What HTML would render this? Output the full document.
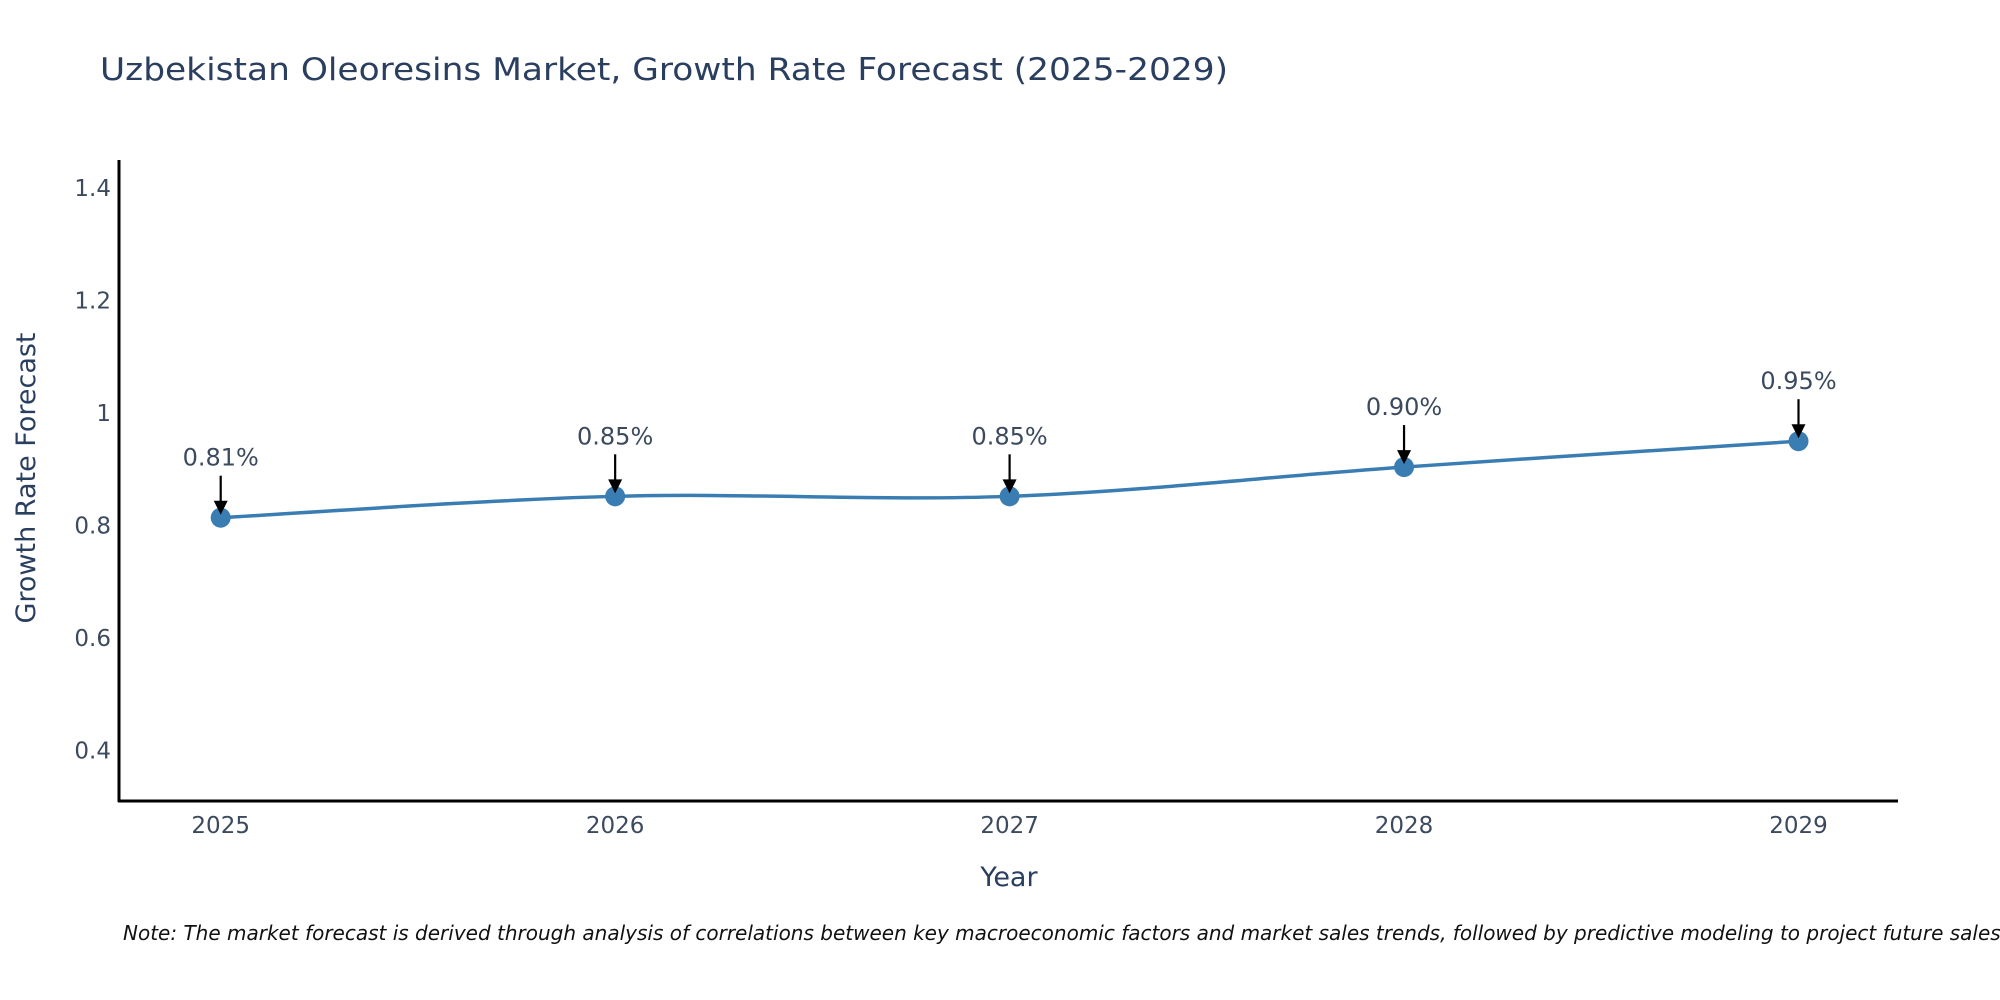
<!DOCTYPE html>
<html><head><meta charset="utf-8"><style>
html,body{margin:0;padding:0;background:#fff;}
svg{display:block;font-family:"DejaVu Sans","Liberation Sans",sans-serif;}
</style></head><body>
<svg id="chart" width="2000" height="1000" viewBox="0 0 2000 1000">
<text x="100" y="80" font-size="31" fill="#2a3f5f" textLength="1128" lengthAdjust="spacingAndGlyphs">Uzbekistan Oleoresins Market, Growth Rate Forecast (2025-2029)</text>
<g id="yticks"></g>
<g id="xticks"></g>
<line x1="119" y1="160" x2="119" y2="802" stroke="#000" stroke-width="3"/>
<line x1="118" y1="801" x2="1898" y2="801" stroke="#000" stroke-width="3"/>
<text x="1009" y="886" font-size="27" fill="#2a3f5f" text-anchor="middle">Year</text>
<text transform="translate(35,478) rotate(-90)" font-size="27" fill="#2a3f5f" text-anchor="middle">Growth Rate Forecast</text>
<path id="line" fill="none" stroke="#3a7db3" stroke-width="3.5"/>
<g id="points"></g>
<g id="annots"></g>
<text x="123" y="940" font-size="20" font-style="italic" fill="#111">Note: The market forecast is derived through analysis of correlations between key macroeconomic factors and market sales trends, followed by predictive modeling to project future sales.</text>
</svg>
<script>
const years = [2025, 2026, 2027, 2028, 2029];
const growth = [0.813, 0.851, 0.851, 0.903, 0.949];
const labels = ["0.81%", "0.85%", "0.85%", "0.90%", "0.95%"];
const yTickValues = [0.4, 0.6, 0.8, 1, 1.2, 1.4];
const yTickLabels = ["0.4", "0.6", "0.8", "1", "1.2", "1.4"];

const NS = "http://www.w3.org/2000/svg";
function xs(v){ return 220.7 + (v - 2025) * 394.45; }
function ys(v){ return 187.5 + (1.4 - v) * 562.5; }
function mk(tag, attrs, parent){ const e = document.createElementNS(NS, tag); for (const k in attrs) e.setAttribute(k, attrs[k]); parent.appendChild(e); return e; }

const yg = document.getElementById('yticks');
yTickValues.forEach((v,i)=>{
  const t = mk('text', {x:111, y:ys(v)+8.5, 'font-size':23, fill:'#3c4a5e', 'text-anchor':'end'}, yg);
  
  
  t.textContent = yTickLabels[i];
});
const xg = document.getElementById('xticks');
years.forEach(y=>{
  const t = mk('text', {x:xs(y), y:833, 'font-size':23, fill:'#3c4a5e', 'text-anchor':'middle'}, xg);
  
  
  t.textContent = String(y);
});

const P = years.map((y,i)=>[xs(y), ys(growth[i])]);
let d = `M${P[0][0]},${P[0][1]}`;
for (let i=0;i<P.length-1;i++){
  const p0=P[Math.max(0,i-1)], p1=P[i], p2=P[i+1], p3=P[Math.min(P.length-1,i+2)];
  const t=1/3;
  const c1=[p1[0]+(p2[0]-p0[0])*t/2, p1[1]+(p2[1]-p0[1])*t/2];
  const c2=[p2[0]-(p3[0]-p1[0])*t/2, p2[1]-(p3[1]-p1[1])*t/2];
  d += ` C${c1[0]},${c1[1]} ${c2[0]},${c2[1]} ${p2[0]},${p2[1]}`;
}
document.getElementById('line').setAttribute('d', d);

const pg = document.getElementById('points');
const ag = document.getElementById('annots');
P.forEach((p,i)=>{
  const c = mk('circle', {cx:p[0], cy:p[1], r:10, fill:'#3a7db3'}, pg);
  
  
  const l = mk('line', {x1:p[0], y1:p[1]-42, x2:p[0], y2:p[1]-14, stroke:'#000', 'stroke-width':2.2}, ag);
  
  
  const h = mk('polygon', {points:`${p[0]-7},${p[1]-17} ${p[0]+7},${p[1]-17} ${p[0]},${p[1]-3}`, fill:'#000'}, ag);
  
  
  const t = mk('text', {x:p[0], y:p[1]-52, 'font-size':24, fill:'#3c4a5e', 'text-anchor':'middle'}, ag);
  
  
  t.textContent = labels[i];
});
</script>
</body></html>
